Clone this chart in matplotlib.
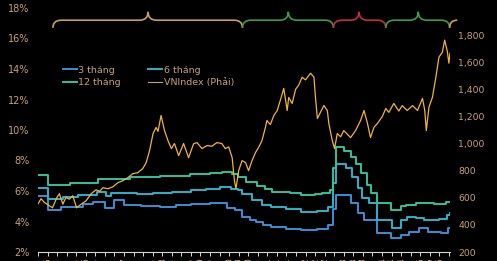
import matplotlib
matplotlib.use("Agg")
import matplotlib.pyplot as plt
from matplotlib.path import Path
from matplotlib.patches import PathPatch
from matplotlib.ticker import FuncFormatter, FixedLocator
import numpy as np

# ---------------- data (decimal years) ----------------
r12_t = [2015.00, 2015.26, 2015.84, 2016.57, 2017.41, 2018.20, 2018.98, 2019.50, 2019.82,
         2020.08, 2020.22, 2020.43, 2020.74, 2020.95, 2021.13, 2021.60, 2021.87, 2022.26,
         2022.44, 2022.65, 2022.73, 2022.81, 2023.00, 2023.18, 2023.31, 2023.44, 2023.62,
         2023.70, 2023.88, 2024.23, 2024.49, 2024.62, 2024.88, 2025.35, 2025.67, 2025.78]
r12_v = [7.05, 6.40, 6.50, 6.80, 6.90, 7.00, 7.10, 7.20, 7.25,
         7.10, 6.90, 6.60, 6.30, 6.10, 5.95, 5.85, 5.75, 5.80,
         5.90, 6.05, 7.50, 8.90, 8.60, 8.20, 7.80, 7.20, 6.40,
         5.90, 5.20, 4.75, 5.00, 5.10, 5.20, 5.15, 5.30, 5.30]

r6_t = [2015.00, 2015.26, 2015.65, 2016.05, 2016.55, 2016.78, 2016.92, 2017.20, 2017.60,
        2018.00, 2018.50, 2019.00, 2019.40, 2019.75, 2020.05, 2020.22, 2020.35, 2020.60,
        2020.85, 2021.10, 2021.50, 2021.87, 2022.30, 2022.60, 2022.73, 2022.80, 2023.05,
        2023.22, 2023.36, 2023.49, 2023.66, 2023.88, 2024.27, 2024.49, 2024.66, 2024.90,
        2025.10, 2025.50, 2025.70, 2025.78]
r6_v = [6.20, 5.50, 5.60, 5.75, 5.95, 5.70, 5.90, 5.85, 5.80,
        5.90, 5.95, 6.05, 6.15, 6.25, 6.15, 6.05, 5.80, 5.40,
        5.10, 4.95, 4.80, 4.60, 4.70, 4.95, 6.50, 7.80, 7.50,
        6.95, 6.20, 5.55, 5.20, 4.10, 3.55, 4.10, 4.30, 4.20,
        4.10, 4.15, 4.40, 4.55]

r3_t = [2015.00, 2015.26, 2015.60, 2016.17, 2016.44, 2016.74, 2016.99, 2017.25, 2017.70,
        2018.20, 2018.60, 2019.00, 2019.50, 2019.95, 2020.15, 2020.35, 2020.55, 2020.70,
        2020.90, 2021.10, 2021.50, 2021.87, 2022.30, 2022.60, 2022.73, 2022.80, 2023.20,
        2023.36, 2023.52, 2023.88, 2024.23, 2024.49, 2024.70, 2024.97, 2025.20, 2025.55,
        2025.72, 2025.78]
r3_v = [5.70, 4.75, 4.95, 5.15, 5.30, 4.90, 5.40, 5.10, 5.00,
        4.95, 5.05, 5.15, 5.20, 4.90, 4.75, 4.30, 4.10, 4.00,
        3.80, 3.65, 3.50, 3.45, 3.50, 3.75, 4.80, 5.75, 5.20,
        4.55, 4.10, 3.25, 2.90, 3.10, 3.30, 3.55, 3.30, 3.25,
        3.55, 3.55]

vn_t = [2015.00, 2015.08, 2015.17, 2015.30, 2015.38, 2015.49, 2015.56, 2015.65, 2015.73,
        2015.82, 2015.91, 2016.01, 2016.13, 2016.26, 2016.39, 2016.52, 2016.61, 2016.70,
        2016.83, 2016.96, 2017.09, 2017.22, 2017.35, 2017.48, 2017.61, 2017.74, 2017.83,
        2017.92, 2018.01, 2018.09, 2018.14, 2018.22, 2018.31, 2018.40, 2018.49, 2018.57,
        2018.59, 2018.68, 2018.81, 2018.94, 2019.07, 2019.16, 2019.29, 2019.42, 2019.55,
        2019.68, 2019.81, 2019.90, 2019.99, 2020.08, 2020.14, 2020.18, 2020.25, 2020.34,
        2020.43, 2020.51, 2020.60, 2020.69, 2020.77, 2020.86, 2020.95, 2020.99, 2021.08,
        2021.17, 2021.26, 2021.34, 2021.43, 2021.52, 2021.56, 2021.65, 2021.74, 2021.82,
        2021.91, 2022.00, 2022.09, 2022.13, 2022.22, 2022.26, 2022.31, 2022.39, 2022.48,
        2022.57, 2022.61, 2022.70, 2022.76, 2022.83, 2022.92, 2023.00, 2023.09, 2023.18,
        2023.31, 2023.44, 2023.53, 2023.62, 2023.70, 2023.79, 2023.88, 2024.01, 2024.10,
        2024.18, 2024.31, 2024.44, 2024.53, 2024.66, 2024.80, 2024.93, 2025.06, 2025.12,
        2025.16, 2025.23, 2025.32, 2025.41, 2025.49, 2025.58, 2025.64, 2025.71, 2025.75,
        2025.78]
vn_v = [555, 593, 565, 541, 526, 600, 630, 553, 602,
        590, 615, 526, 553, 578, 630, 659, 648, 674,
        667, 681, 711, 726, 748, 778, 785, 815, 859,
        948, 1074, 1119, 1090, 1207, 1096, 1022, 963, 1000,
        985, 911, 1000, 896, 998, 1007, 963, 985, 980,
        1007, 1000, 963, 975, 896, 726, 667, 800, 874,
        860, 800, 874, 933, 970, 1022, 1119, 1170, 1140,
        1207, 1244, 1319, 1407, 1244, 1340, 1296, 1400, 1430,
        1489, 1470, 1504, 1519, 1490, 1341, 1185, 1230, 1281,
        1244, 1148, 1022, 963, 1074, 1050, 1096, 1070, 1044,
        1096, 1170, 1244, 1150, 1044, 1120, 1148, 1200, 1259,
        1230, 1296, 1240, 1280, 1244, 1280, 1244, 1333, 1244,
        1096, 1270, 1341, 1489, 1637, 1674, 1763, 1680, 1593,
        1667]

# brace periods: (start, tip, end, colour)
brace_start = [2015.39, 2020.35, 2022.73, 2024.10]
brace_tip = [2017.88, 2021.55, 2023.40, 2024.95]
brace_end = [2020.35, 2022.73, 2024.10, 2025.77]
brace_color = ["#c9a05a", "#3f9a4c", "#c2303c", "#3f9a4c"]

labels_legend = ["3 tháng", "6 tháng", "12 tháng", "VNIndex (Phải)"]

# ---------------- figure ----------------
TXT = "#c9a27a"
fig = plt.figure(figsize=(4.97, 2.61), dpi=100, facecolor="black")
ax = fig.add_axes([38/497, 9/261, 412/497, 244/261])
ax.set_facecolor("black")
ax2 = ax.twinx()

c3, c6, c12, cvn = "#3a8fd6", "#2ab4cc", "#2fc49c", "#f2b43c"

l3, = ax.plot(r3_t, r3_v, color=c3, lw=1.4, drawstyle="steps-post", zorder=3)
l6, = ax.plot(r6_t, r6_v, color=c6, lw=1.4, drawstyle="steps-post", zorder=3)
l12, = ax.plot(r12_t, r12_v, color=c12, lw=1.4, drawstyle="steps-post", zorder=3)
lvn, = ax2.plot(vn_t, vn_v, color=cvn, lw=0.9, zorder=2)

ax.set_xlim(2015.0, 2025.78)
ax.set_ylim(2, 18)
ax2.set_ylim(200, 2000)

ax.set_yticks(np.arange(2, 19, 2))
ax.yaxis.set_major_formatter(FuncFormatter(lambda v, p: f"{int(v)}%"))
ax2.set_yticks(np.arange(200, 1801, 200))
ax2.yaxis.set_major_formatter(FuncFormatter(lambda v, p: f"{int(v):,}"))

qt = [2015 + i * 0.25 for i in range(44)]
ax.xaxis.set_major_locator(FixedLocator(qt))
ax.set_xticklabels([f"{int(round((t % 1) * 4)) * 3 + 1:02d}/{int(t) % 100:02d}" for t in qt],
                   rotation=90, fontsize=6.5, color=TXT, va="top")

for a in (ax, ax2):
    for s in a.spines.values():
        s.set_visible(False)
ax.spines["bottom"].set_visible(True)
ax.spines["bottom"].set_color("#d8d8d8")
ax.spines["bottom"].set_linewidth(0.8)
ax.tick_params(axis="x", colors="#d8d8d8", length=3, width=0.7, pad=1, labelcolor=TXT)
ax.tick_params(axis="y", length=0, labelsize=7, labelcolor=TXT, pad=6)
ax2.tick_params(axis="y", length=0, labelsize=6.7, labelcolor=TXT, pad=6)

# braces
def brace(x0, xm, x1, col, yend=16.7, ybody=17.2, ytip=17.75, r=0.22):
    verts = [(x0, yend), (x0, ybody), (x0 + r, ybody), (xm - r, ybody),
             (xm, ybody), (xm, ytip), (xm, ybody), (xm + r, ybody),
             (x1 - r, ybody), (x1, ybody), (x1, yend)]
    codes = [Path.MOVETO, Path.CURVE3, Path.CURVE3, Path.LINETO,
             Path.CURVE3, Path.CURVE3, Path.CURVE3, Path.CURVE3,
             Path.LINETO, Path.CURVE3, Path.CURVE3]
    ax.add_patch(PathPatch(Path(verts, codes), fill=False, edgecolor=col, lw=1.2,
                           clip_on=False, zorder=4))

for s, m, e, c in zip(brace_start, brace_tip, brace_end, brace_color):
    brace(s, m, e, c)
# beginning of the next brace
ax.add_patch(PathPatch(Path([(2025.77, 16.7), (2025.77, 17.2), (2025.97, 17.2)],
                            [Path.MOVETO, Path.CURVE3, Path.CURVE3]),
                       fill=False, edgecolor="#c9a05a", lw=1.2, clip_on=False, zorder=4))

# column-major order so that rows read: 3 tháng | 6 tháng ; 12 tháng | VNIndex
handles = [l3, l12, l6, lvn]
labs = [labels_legend[0], labels_legend[2], labels_legend[1], labels_legend[3]]
leg = fig.legend(handles, labs, ncol=2, frameon=False,
                 loc="upper left", bbox_to_anchor=(58/497, 1 - 61/261),
                 fontsize=6.8, handlelength=1.5, handletextpad=0.15,
                 columnspacing=2.9, labelspacing=0.35, borderpad=0)
for t in leg.get_texts():
    t.set_color(TXT)
leg.get_lines()[3].set_color("#c8a27e")
leg.get_lines()[3].set_linewidth(0.8)

fig.savefig("out.png", dpi=100, facecolor="black")
